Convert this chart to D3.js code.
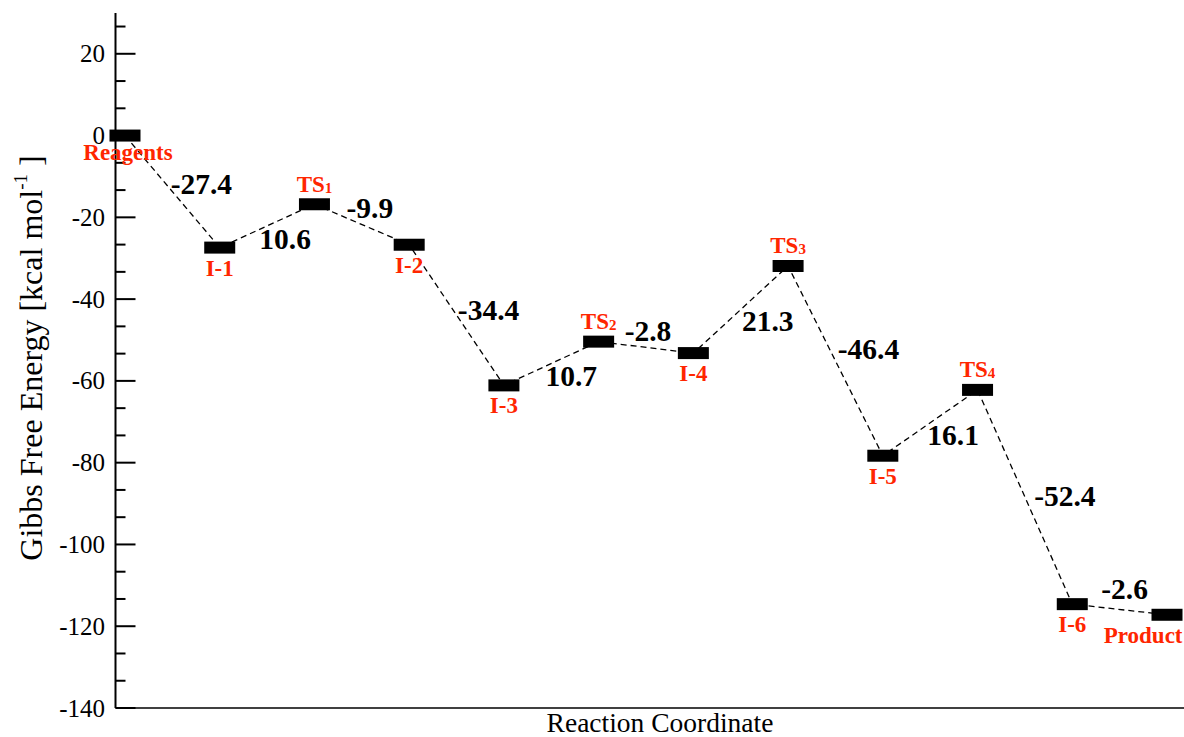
<!DOCTYPE html>
<html>
<head>
<meta charset="utf-8">
<script src="https://cdn.jsdelivr.net/npm/d3@7"></script>
<style>
  html, body { margin: 0; padding: 0; background: #fff; }
  svg { display: block; }
  svg text { font-family: "Liberation Serif", "Times New Roman", Times, "DejaVu Serif", serif; }
</style>
</head>
<body>
<svg id="chart" width="1184" height="737"></svg>
<script>
// ---- data ----
const states   = ["Reagents", "I-1", "TS1", "I-2", "I-3", "TS2", "I-4", "TS3", "I-5", "TS4", "I-6", "Product"];
const stateBase = ["Reagents", "I-1", "TS", "I-2", "I-3", "TS", "I-4", "TS", "I-5", "TS", "I-6", "Product"];
const stateSub  = ["", "", "1", "", "", "2", "", "3", "", "4", "", ""];
const energies = [0, -27.4, -16.8, -26.7, -61.1, -50.4, -53.2, -31.9, -78.3, -62.2, -114.6, -117.2];
const stepLabels = ["-27.4", "10.6", "-9.9", "-34.4", "10.7", "-2.8", "21.3", "-46.4", "16.1", "-52.4", "-2.6"];
const majorTicks = [-140, -120, -100, -80, -60, -40, -20, 0, 20];

// ---- layout (not data) ----
const FONT = "'Liberation Serif', 'Times New Roman', Times, 'DejaVu Serif', serif";
const labelNudge = [[29, 2], [18, 23], [8, -6], [32, 5], [20, 22], [2, -6], [27, 21], [33, -2], [23, 22], [40, 9], [5, -10]];
const axisX = 115.5;
const svg = d3.select("#chart").attr("font-family", FONT);

const y = d3.scaleLinear().domain([-140, 30]).range([708, 12.9]);
const x = d3.scalePoint().domain(states).range([125, 1167]);

// minor ticks every 20/3
const minorTicks = d3.range(0, 26).map(i => -140 + i * 20 / 3).filter(v => v <= 30 && !majorTicks.some(m => Math.abs(m - v) < 1e-6));

svg.append("line").attr("x1", axisX).attr("x2", axisX).attr("y1", y(30)).attr("y2", y(-140))
  .attr("stroke", "#000").attr("stroke-width", 2);
svg.append("line").attr("x1", axisX).attr("x2", 1184).attr("y1", y(-140)).attr("y2", y(-140))
  .attr("stroke", "#000").attr("stroke-width", 1.4);

svg.append("g").selectAll("line").data(majorTicks).join("line")
  .attr("x1", axisX).attr("x2", axisX + 20)
  .attr("y1", d => y(d)).attr("y2", d => y(d))
  .attr("stroke", "#000").attr("stroke-width", 2);
svg.append("g").selectAll("line").data(minorTicks).join("line")
  .attr("x1", axisX).attr("x2", axisX + 10)
  .attr("y1", d => y(d)).attr("y2", d => y(d))
  .attr("stroke", "#000").attr("stroke-width", 2);
svg.append("g").selectAll("text").data(majorTicks).join("text")
  .attr("font-family", FONT)
  .attr("x", 105).attr("y", d => y(d)).attr("dy", "0.34em")
  .attr("text-anchor", "end").attr("font-size", 25).attr("fill", "#000")
  .text(d => d);

// axis titles
svg.append("text").attr("font-family", FONT).attr("x", 660).attr("y", 732).attr("text-anchor", "middle")
  .attr("font-size", 27.5).attr("fill", "#000").text("Reaction Coordinate");
const yt = svg.append("text").attr("font-family", FONT).attr("transform", "translate(42,358) rotate(-90)")
  .attr("text-anchor", "middle").attr("font-size", 32).attr("fill", "#000");
yt.append("tspan").text("Gibbs Free Energy [kcal mol");
yt.append("tspan").attr("dy", -15).attr("font-size", 19).text("-1");
yt.append("tspan").attr("dy", 15).text(" ]");

// connecting dashed line
const line = d3.line().x((d, i) => x(states[i])).y(d => y(d));
svg.append("path").datum(energies).attr("d", line)
  .attr("fill", "none").attr("stroke", "#000").attr("stroke-width", 1.3)
  .attr("stroke-dasharray", "6,4");

// level bars
const barW = 31, barH = 12;
svg.append("g").selectAll("rect").data(energies).join("rect")
  .attr("x", (d, i) => x(states[i]) - barW / 2)
  .attr("y", d => y(d) - barH / 2)
  .attr("width", barW).attr("height", barH).attr("fill", "#000");

// state labels
const red = "#ff2600";
const sl = svg.append("g").selectAll("text").data(energies).join("text")
  .attr("font-family", FONT)
  .attr("x", (d, i) => {
    if (states[i] === "Product") return x(states[i]) + barW / 2;
    if (states[i] === "Reagents") return x(states[i]) + 3;
    return x(states[i]);
  })
  .attr("y", (d, i) => stateBase[i] === "TS" ? y(d) - 12.5 : y(d) + (states[i] === "Reagents" ? 24.5 : 28))
  .attr("text-anchor", (d, i) => states[i] === "Product" ? "end" : "middle")
  .attr("font-size", 23).attr("font-weight", "bold").attr("fill", red);
sl.append("tspan").text((d, i) => stateBase[i]);
sl.append("tspan").attr("font-size", 15).attr("dy", 1).text((d, i) => stateSub[i]);

// step labels
svg.append("g").selectAll("text").data(stepLabels).join("text")
  .attr("font-family", FONT)
  .attr("x", (d, i) => (x(states[i]) + x(states[i + 1])) / 2 + labelNudge[i][0])
  .attr("y", (d, i) => (y(energies[i]) + y(energies[i + 1])) / 2 + labelNudge[i][1])
  .attr("text-anchor", "middle").attr("font-size", 29.5).attr("font-weight", "bold").attr("fill", "#000")
  .text(d => d);
</script>
</body>
</html>
